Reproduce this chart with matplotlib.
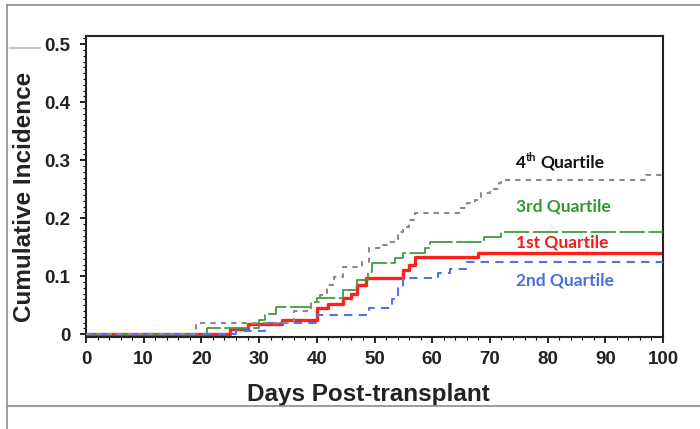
import numpy as np
import matplotlib.pyplot as plt
from matplotlib.lines import Line2D
from matplotlib.ticker import MultipleLocator

# Cumulative incidence step curves (days, value at step)
q1_days = [0, 25, 28, 34, 40, 42, 44.5, 46, 47, 48.5, 55, 56, 57, 68]
q1_vals = [0, 0.008, 0.017, 0.024, 0.045, 0.052, 0.062, 0.07, 0.085, 0.097,
           0.11, 0.12, 0.133, 0.14]

q2_days = [0, 26, 31, 40, 49, 53, 54, 55, 61, 63, 66]
q2_vals = [0, 0.006, 0.02, 0.033, 0.045, 0.06, 0.08, 0.097, 0.105, 0.113,
           0.124]

q3_days = [0, 21, 30, 31, 33, 39, 40, 44.5, 47, 48.8, 49.6, 53.6, 55, 58.8,
           59.7, 69, 72]
q3_vals = [0, 0.01, 0.025, 0.035, 0.047, 0.055, 0.062, 0.076, 0.093, 0.107,
           0.122, 0.131, 0.14, 0.148, 0.159, 0.167, 0.176]

q4_days = [0, 19, 36, 39, 40.6, 41.8, 43, 44.6, 47.9, 49, 50.7, 52.3, 54, 55,
           55.9, 57.1, 65, 66, 67.5, 68.5, 70, 71.5, 72, 97]
q4_vals = [0, 0.02, 0.04, 0.055, 0.067, 0.084, 0.098, 0.116, 0.124, 0.148,
           0.153, 0.158, 0.176, 0.184, 0.197, 0.208, 0.217, 0.226, 0.232,
           0.243, 0.25, 0.26, 0.265, 0.274]

x_end = 100
x_ticks = [0, 10, 20, 30, 40, 50, 60, 70, 80, 90, 100]
y_ticks = [0, 0.1, 0.2, 0.3, 0.4, 0.5]
y_labels = ['0', '0.1', '0.2', '0.3', '0.4', '0.5']


def stepline(days, vals):
    return list(days) + [x_end], list(vals) + [vals[-1]]


fig = plt.figure(figsize=(7.0, 4.29), dpi=100)
ax = fig.add_axes([86/700, 1 - 337/429, (663 - 86)/700, (337 - 36)/429])

x, y = stepline(q1_days, q1_vals)
ax.plot(x, y, drawstyle='steps-post', color='#ff1f1f', lw=2.4, zorder=2)

x, y = stepline(q3_days, q3_vals)
ax.plot(x, y, drawstyle='steps-post', color='#3f9e3f', lw=1.3,
        dashes=(14, 2), zorder=3)

x, y = stepline(q2_days, q2_vals)
ax.plot(x, y, drawstyle='steps-post', color='#5570e8', lw=1.5,
        dashes=(4, 3), zorder=3)

x, y = stepline(q4_days, q4_vals)
ax.plot(x, y, drawstyle='steps-post', color='#8a8a8a', lw=1.5,
        dashes=(2.5, 2.5), zorder=4)

ax.set_xlim(0, 100)
ax.set_ylim(-0.005, 0.514)
ax.set_xticks(x_ticks)
ax.set_yticks(y_ticks)
ax.set_yticklabels(y_labels)
ax.xaxis.set_minor_locator(MultipleLocator(2))
ax.yaxis.set_minor_locator(MultipleLocator(0.01))
ax.tick_params(which='major', direction='out', length=4, width=1.2,
               labelsize=13.5)
ax.tick_params(axis='x', which='major', pad=6)
ax.tick_params(axis='y', which='major', pad=7)
ax.tick_params(which='minor', direction='out', length=2.5, width=0.8)
for lab in ax.get_xticklabels() + ax.get_yticklabels():
    lab.set_fontweight('bold')
    lab.set_family('Liberation Sans')
    lab.set_color('#222222')
for sp in ax.spines.values():
    sp.set_linewidth(1.5)
    sp.set_color('#222222')

ax.set_xlabel('Days Post-transplant', fontsize=17.5, fontweight='bold',
              family='Liberation Sans', color='#222222')
ax.set_ylabel('Cumulative Incidence', fontsize=17.5, fontweight='bold',
              family='Liberation Sans', color='#222222')
ax.xaxis.set_label_coords(0.49, -0.152)
ax.yaxis.set_label_coords(-0.087, 0.465)

lab_font = dict(fontweight='bold', family='Lato', va='baseline', ha='left')
# 4th Quartile with a small superscript
ax.annotate('4', (74.5, 0.287), fontsize=12.5, color='#111111', **lab_font)
ax.annotate('th', (74.5, 0.287), xytext=(7.3, 4.5), textcoords='offset points',
            fontsize=8, color='#111111', **lab_font)
ax.annotate('Quartile', (74.5, 0.287), xytext=(18, 0),
            textcoords='offset points', fontsize=12.5, color='#111111',
            **lab_font)
ax.text(74.5, 0.211, '3rd Quartile', color='#2f9a2f', fontsize=12.5,
        **lab_font)
ax.text(74.5, 0.149, '1st Quartile', color='#ee1c1c', fontsize=12.5,
        **lab_font)
ax.text(74.5, 0.083, '2nd Quartile', color='#4a6fe0', fontsize=12.5,
        **lab_font)

# grey frame of the slide
def fline(x0, y0, x1, y1, color='#8c8c8c', lw=1.2):
    fig.add_artist(Line2D([x0/700, x1/700], [1 - y0/429, 1 - y1/429],
                          color=color, lw=lw, transform=fig.transFigure))


fline(7, 5, 700, 5)
fline(7, 5, 7, 429)
fline(7, 406, 700, 406)
fline(10, 48, 40, 48, color='#c8c8c8', lw=1.5)

plt.savefig('out.png', dpi=100)
